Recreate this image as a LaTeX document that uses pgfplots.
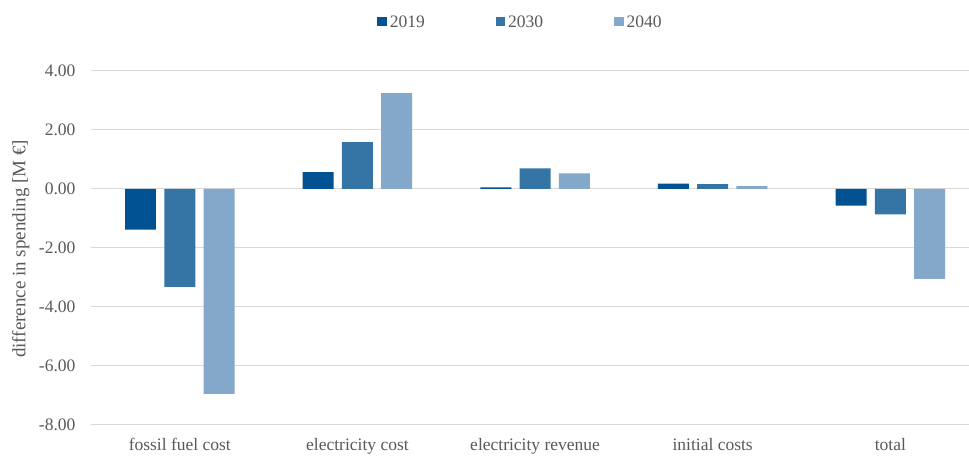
\documentclass[border=0pt]{standalone}
\usepackage{fontspec}
\setmainfont{Liberation Serif}
\usepackage{pgfplots}
\pgfplotsset{compat=1.18}
\definecolor{c19}{RGB}{0,82,147}
\definecolor{c30}{RGB}{52,117,166}
\definecolor{c40}{RGB}{131,168,201}
\definecolor{txt}{RGB}{89,89,89}
\definecolor{grd}{RGB}{217,217,217}
\newcommand{\ft}{\fontsize{17.5}{21}\selectfont}
\begin{document}
\begin{tikzpicture}
\begin{axis}[
  name=ax, at={(0,0)}, anchor=south west,
  width=878pt, height=354pt, scale only axis,
  xmin=-0.5, xmax=4.44, ymin=-8, ymax=4,
  ytick={-8,-6,-4,-2,0,2,4},
  yticklabels={-8.00,-6.00,-4.00,-2.00,0.00,2.00,4.00},
  xtick={0,1,2,3,4},
  xticklabels={fossil fuel cost, electricity cost, electricity revenue, initial costs, total},
  ymajorgrids, grid style={grd, line width=1pt},
  axis line style={draw=none}, major tick style={draw=none},
  tick label style={font=\ft, text=txt},
  yticklabel style={xshift=-12pt},
  xticklabel style={yshift=-10pt},
  every axis y label/.style={at={(axis description cs:-0.080,0.497)}, rotate=90, anchor=center,
    font=\fontsize{19}{23}\selectfont, text=txt},
  ylabel={difference in spending [M €]},
  legend style={at={(axis description cs:0.49,1.137)}, anchor=center, draw=none, fill=none,
    legend columns=3, font=\ft, text=txt,
    nodes={inner xsep=3pt},
    /tikz/every even column/.append style={column sep=68pt}},
]
\addplot[ybar, bar width=31pt, bar shift=-39.3pt, draw=none, fill=c19,
  legend image code/.code={\fill[c19] (0pt,-4pt) rectangle (9.5pt,5.5pt);}]
  coordinates {(0,-1.38) (1,0.57) (2,0.05) (3,0.18) (4,-0.57)};
\addlegendentry{2019}
\addplot[ybar, bar width=31pt, bar shift=0pt, draw=none, fill=c30,
  legend image code/.code={\fill[c30] (0pt,-4pt) rectangle (9.5pt,5.5pt);}]
  coordinates {(0,-3.32) (1,1.59) (2,0.70) (3,0.16) (4,-0.86)};
\addlegendentry{2030}
\addplot[ybar, bar width=31pt, bar shift=39.3pt, draw=none, fill=c40,
  legend image code/.code={\fill[c40] (0pt,-4pt) rectangle (9.5pt,5.5pt);}]
  coordinates {(0,-6.95) (1,3.25) (2,0.53) (3,0.09) (4,-3.05)};
\addlegendentry{2040}
\end{axis}
\path (ax.south west) ++(-91pt,-32pt) rectangle ([yshift=71pt]ax.north east);
\end{tikzpicture}
\end{document}
